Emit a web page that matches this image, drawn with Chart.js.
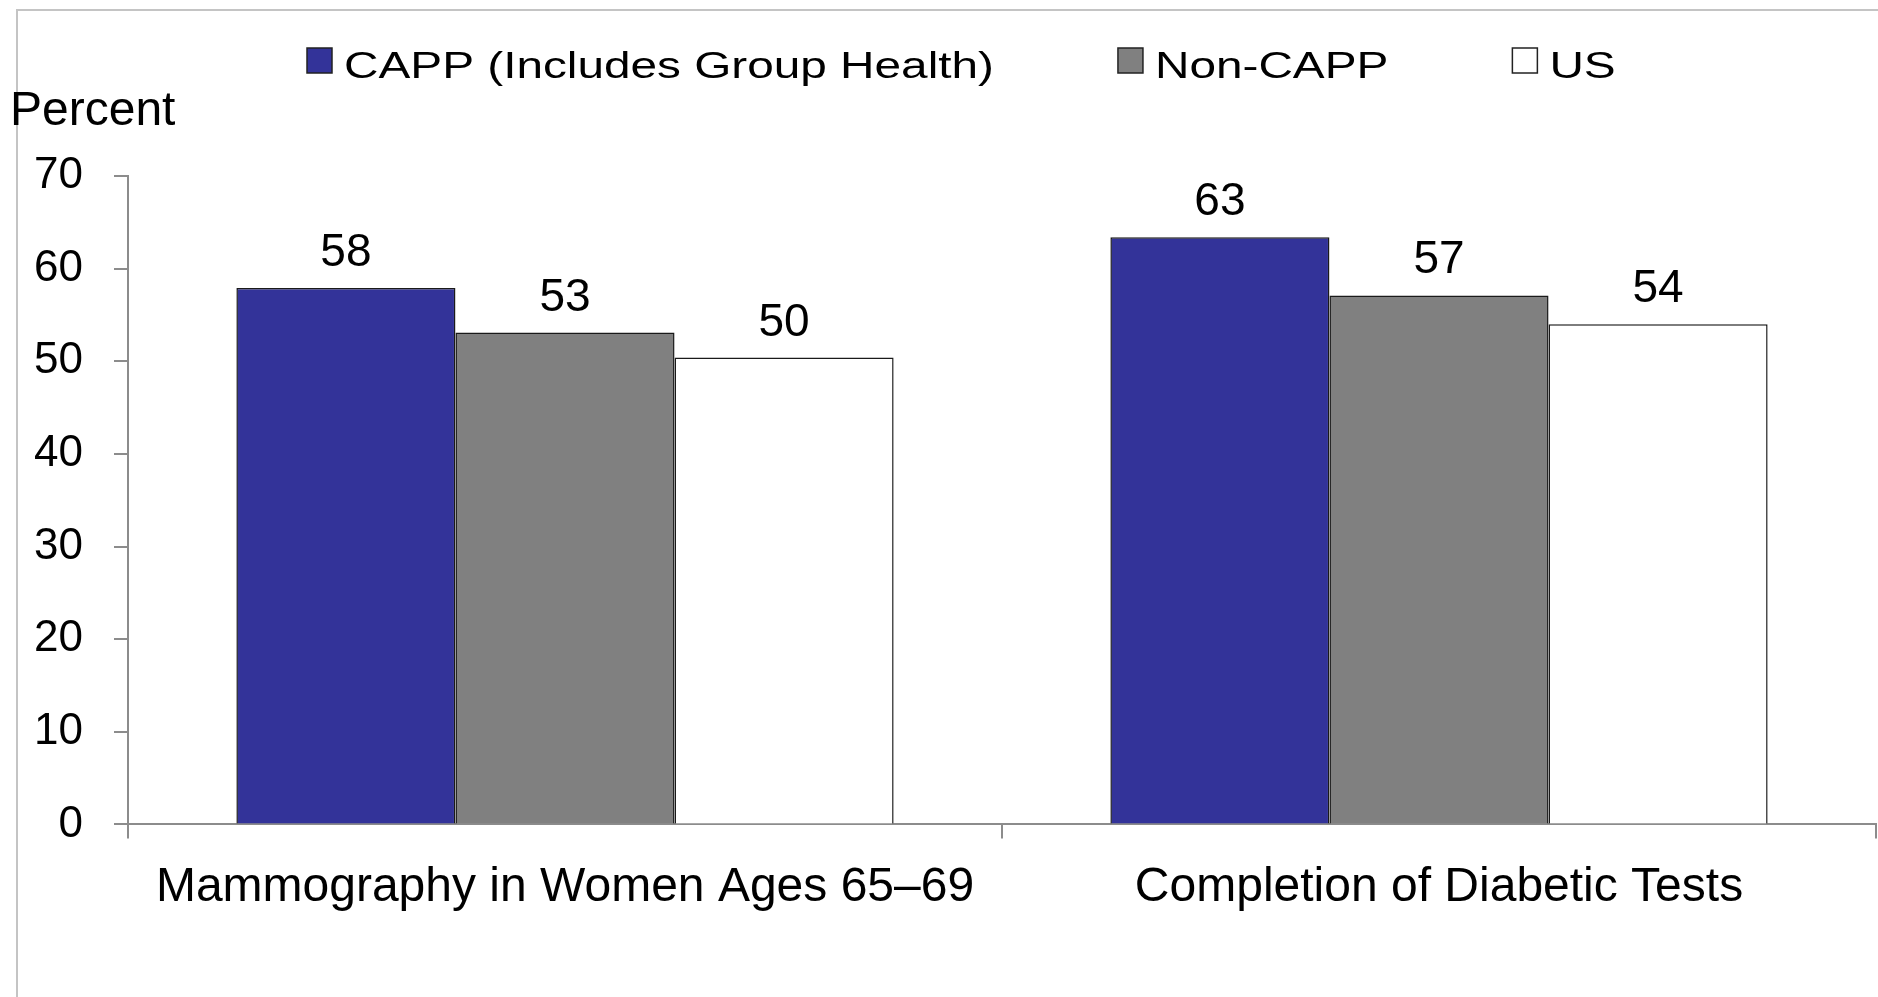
<!DOCTYPE html>
<html>
<head>
<meta charset="utf-8">
<script src="https://cdn.jsdelivr.net/npm/chart.js@4.4.1/dist/chart.umd.min.js"></script>
<style>
  html, body { margin: 0; padding: 0; background: #fff; }
  #wrap { width: 1878px; height: 997px; }
</style>
</head>
<body>
<div id="wrap"><canvas id="barChart" width="1878" height="997"></canvas></div>
<script>
const categories = ['Mammography in Women Ages 65\u201369', 'Completion of Diabetic Tests'];
const seriesNames = ['CAPP (Includes Group Health)', 'Non-CAPP', 'US'];
const cappValues = [57.9, 63.4];
const nonCappValues = [53.1, 57.1];
const usValues = [50.4, 54.0];
const yTicks = [0, 10, 20, 30, 40, 50, 60, 70];
const seriesColors = ['#333399', '#808080', '#ffffff'];

const FONT = "'Liberation Sans', Arial, Helvetica, sans-serif";
const axisGrey = '#8c8c8c';

// light frame round the slide (top and left edges only show)
const frame = {
    id: 'frame',
    beforeDraw(chart) {
        const ctx = chart.ctx;
        ctx.save();
        ctx.fillStyle = '#fff';
        ctx.fillRect(0, 0, chart.width, chart.height);
        ctx.strokeStyle = '#c4c4c4';
        ctx.lineWidth = 2;
        ctx.beginPath();
        ctx.moveTo(17, chart.height);
        ctx.lineTo(17, 10);
        ctx.lineTo(chart.width, 10);
        ctx.stroke();
        ctx.restore();
    }
};

// numbers above the bars
const valueLabels = {
    id: 'valueLabels',
    afterDatasetsDraw(chart) {
        const ctx = chart.ctx;
        ctx.save();
        ctx.font = '46px ' + FONT;
        ctx.textAlign = 'center';
        ctx.textBaseline = 'alphabetic';
        ctx.fillStyle = '#000';
        chart.data.datasets.forEach((ds, i) => {
            chart.getDatasetMeta(i).data.forEach((bar, j) => {
                ctx.fillText(String(Math.round(ds.data[j])), bar.x, bar.y - 22);
            });
        });
        ctx.restore();
    }
};

// legend row + "Percent" caption
const topLegend = {
    id: 'topLegend',
    afterDraw(chart) {
        const ctx = chart.ctx;
        const stretch = 1.29;
        const box = 25;
        ctx.save();
        ctx.font = '37px ' + FONT;
        ctx.textBaseline = 'alphabetic';
        let x = 307;
        chart.data.datasets.forEach(ds => {
            ctx.fillStyle = ds.backgroundColor;
            ctx.fillRect(x, 48, box, box);
            ctx.strokeStyle = '#222';
            ctx.lineWidth = 1.5;
            ctx.strokeRect(x, 48, box, box);
            const tx = x + box + 12;
            ctx.save();
            ctx.translate(tx, 78);
            ctx.scale(stretch, 1);
            ctx.fillStyle = '#000';
            ctx.fillText(ds.label, 0, 0);
            ctx.restore();
            x = tx + ctx.measureText(ds.label).width * stretch + 124;
        });
        ctx.font = '48px ' + FONT;
        ctx.fillStyle = '#000';
        ctx.fillText('Percent', 10, 125);
        ctx.restore();
    }
};

const valueSets = [cappValues, nonCappValues, usValues];

new Chart(document.getElementById('barChart'), {
    type: 'bar',
    data: {
        labels: categories,
        datasets: seriesNames.map((name, i) => ({
            label: name,
            data: valueSets[i],
            backgroundColor: seriesColors[i],
            borderColor: '#1a1a1a',
            borderWidth: 1.5
        }))
    },
    options: {
        responsive: false,
        animation: false,
        devicePixelRatio: 1,
        layout: { padding: { left: 8, right: 2, top: 176, bottom: 59 } },
        datasets: { bar: { categoryPercentage: 0.752, barPercentage: 1 } },
        plugins: {
            legend: { display: false },
            tooltip: { enabled: false }
        },
        scales: {
            x: {
                grid: { offset: true, drawOnChartArea: false, tickLength: 14, color: axisGrey, lineWidth: 2 },
                border: { color: axisGrey, width: 2 },
                ticks: { font: { family: FONT, size: 48 }, color: '#000', padding: 21 },
                // long category names must not push the plot area in
                afterFit(scale) {
                    scale.paddingLeft = 0;
                    scale.paddingRight = 0;
                }
            },
            y: {
                min: yTicks[0],
                max: yTicks[yTicks.length - 1],
                grid: { drawOnChartArea: false, tickLength: 14, color: axisGrey, lineWidth: 2 },
                border: { color: axisGrey, width: 2 },
                ticks: { stepSize: yTicks[1] - yTicks[0], font: { family: FONT, size: 44 }, color: '#000', padding: 31 },
                afterFit(scale) {
                    scale.width = 120;
                }
            }
        }
    },
    plugins: [frame, valueLabels, topLegend]
});
</script>
</body>
</html>
